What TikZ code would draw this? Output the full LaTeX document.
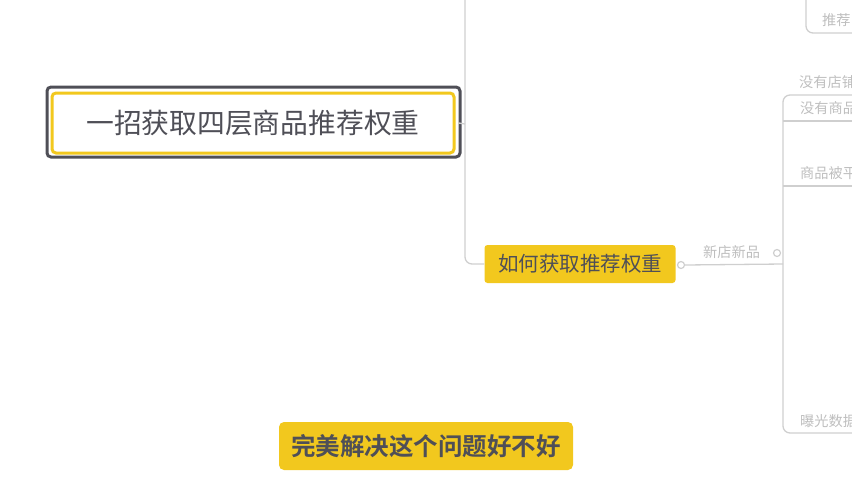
\documentclass[tikz,border=0pt]{standalone}
\usepackage{fontspec}
\setmainfont{Noto Sans CJK SC}
\newfontfamily\cjkb{Noto Sans CJK SC Bold}
\definecolor{ylw}{HTML}{F2C81E}
\definecolor{dk}{HTML}{4F4F57}
\definecolor{ln}{HTML}{CFCFCF}
\definecolor{lt}{HTML}{BEBEBE}
\begin{document}
\begin{tikzpicture}[x=1pt,y=-1pt,
  branch/.style={draw=ln,line width=1.3pt,rounded corners=7pt},
  leaf/.style={text=lt,font=\fontsize{14.2}{14.2}\selectfont,anchor=west,inner sep=0pt},
  dot/.style={circle,draw=ln,fill=white,line width=1.2pt,minimum size=7pt,inner sep=0pt}]
\useasboundingbox (0,0) rectangle (852,480);
\clip (0,0) rectangle (852,480);
% root
\draw[dk,line width=3pt,rounded corners=4pt,fill=white] (47,87) rectangle (460,157);
\node[draw=ylw,line width=3pt,rounded corners=4pt,fill=white,minimum width=402pt,minimum height=60pt,
  text=dk,font=\fontsize{27.8}{27.8}\selectfont] (root) at (253,123) {一招获取四层商品推荐权重};
% main vertical line
\coordinate (top) at (465,0);
\node[fill=ylw,rounded corners=3pt,minimum width=191pt,minimum height=38pt,text=dk,
  font=\fontsize{20.5}{20.5}\selectfont,inner sep=0pt] (how) at (580,264) {如何获取推荐权重};
\draw[branch] (top) |- (how.west);
\coordinate (rj) at (465,124);
\draw[ln,line width=1.3pt] (root.east) ++(3,0) -- (rj);
% circle after how
\node[dot] (c1) at (681,265) {};
\node[leaf] (xd) at (703,252) {新店新品};
\node[dot] (c2) at (777,253) {};
\coordinate (vx) at (783,264);
\draw[ln,line width=1.3pt] (c1.east) -- (vx);
% right-hand tree
\coordinate (ra) at (852,95);
\coordinate (rb) at (852,121);
\coordinate (rc) at (852,186);
\coordinate (rd) at (852,433);
\draw[branch] (ra) -| (783,264) |- (rd);
\draw[ln,line width=1.3pt] (783,121) -- (rb);
\draw[ln,line width=1.3pt] (783,186) -- (rc);
\node[leaf] (a) at (799,82) {没有店铺};
\node[leaf] (b) at (800,108) {没有商品};
\node[leaf] (c) at (800,173) {商品被平};
\node[leaf] (d) at (800,421) {曝光数据};
% top-right branch
\coordinate (t0) at (806,0);
\coordinate (t1) at (852,33);
\draw[branch] (t0) |- (t1);
\node[leaf] (e) at (822,20) {推荐};
% caption
\node[fill=ylw,rounded corners=5pt,minimum width=294pt,minimum height=48pt,text=dk,
  font=\cjkb\fontsize{24.5}{24.5}\selectfont,inner sep=0pt] (cap) at (426,446) {完美解决这个问题好不好};
\end{tikzpicture}
\end{document}
